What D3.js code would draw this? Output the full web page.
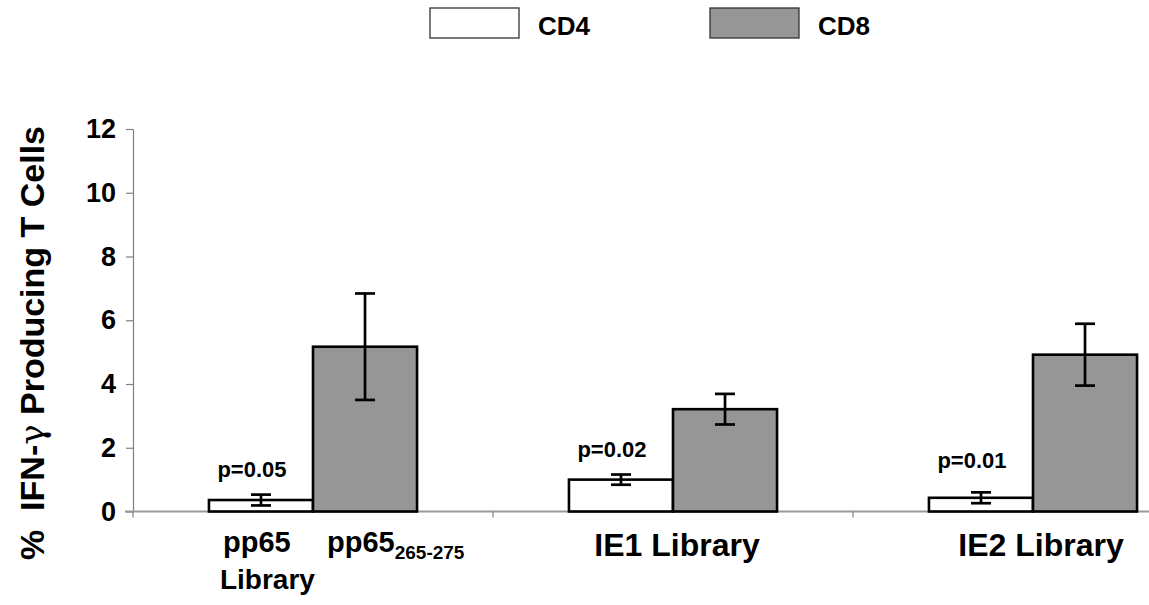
<!DOCTYPE html>
<html>
<head>
<meta charset="utf-8">
<script src="https://cdn.jsdelivr.net/npm/d3@7"></script>
<style>
  body { margin: 0; background: #fff; }
  svg { display: block; font-family: "Liberation Sans", Arial, sans-serif; font-weight: bold; }
</style>
</head>
<body>
<div id="chart"></div>
<script>
// data
var categories = ["pp65", "IE1", "IE2"];
var series = ["CD4", "CD8"];
var cd4Values = [0.36, 1.00, 0.43];
var cd4Errors = [0.17, 0.16, 0.17];
var cd8Values = [5.17, 3.21, 4.92];
var cd8Errors = [1.67, 0.48, 0.97];
var pLabels = ["p=0.05", "p=0.02", "p=0.01"];
var pLabelY = [1.08, 1.70, 1.38]; // in data units, where the p text sits
var yTicks = [0, 2, 4, 6, 8, 10, 12];

var width = 1149, height = 605;
var fills = { CD4: "#ffffff", CD8: "#969696" };

var svg = d3.select("#chart").append("svg")
  .attr("width", width)
  .attr("height", height);

// plot area (right side is cut off like the original)
var x = d3.scaleBand().domain(categories).range([133, 1213]).padding(0);
var xSeries = d3.scaleBand().domain(series).range([0, x.bandwidth()])
  .paddingInner(0).paddingOuter(0.73);
var y = d3.scaleLinear().domain([0, 12]).range([511.5, 129]);

// rows for the bars
var rows = [];
categories.forEach(function(c, i) {
  rows.push({ cat: c, s: "CD4", v: cd4Values[i], e: cd4Errors[i] });
  rows.push({ cat: c, s: "CD8", v: cd8Values[i], e: cd8Errors[i] });
});

// y axis
var yAxis = svg.append("g")
  .attr("transform", "translate(" + x.range()[0] + ",0)")
  .call(d3.axisLeft(y).tickValues(yTicks).tickSize(7).tickPadding(10).tickSizeOuter(0));
yAxis.select(".domain").attr("stroke", "#808080").attr("stroke-width", 1.2);
yAxis.selectAll(".tick line").attr("stroke", "#808080").attr("stroke-width", 1.2);
yAxis.selectAll(".tick text")
  .attr("font-size", 27).attr("font-weight", "bold").attr("fill", "#000")
  .attr("font-family", "Liberation Sans, Arial, sans-serif");

// baseline with category separators
svg.append("line")
  .attr("x1", x.range()[0] - 8).attr("x2", width)
  .attr("y1", y(0)).attr("y2", y(0))
  .attr("stroke", "#9a9a9a").attr("stroke-width", 2);
svg.selectAll(".sep").data(categories)
  .enter().append("line")
  .attr("class", "sep")
  .attr("x1", function(d) { return x(d); })
  .attr("x2", function(d) { return x(d); })
  .attr("y1", y(0)).attr("y2", y(0) + 6)
  .attr("stroke", "#808080").attr("stroke-width", 1.2);

// bars
var bars = svg.append("g");
bars.selectAll("rect").data(rows)
  .enter().append("rect")
  .attr("x", function(d) { return x(d.cat) + xSeries(d.s); })
  .attr("y", function(d) { return y(d.v); })
  .attr("width", xSeries.bandwidth())
  .attr("height", function(d) { return y(0) - y(d.v); })
  .attr("fill", function(d) { return fills[d.s]; })
  .attr("stroke", "#000")
  .attr("stroke-width", 2.6);

// error bars
var errs = svg.append("g").attr("stroke", "#000").attr("stroke-width", 2.7);
rows.forEach(function(d) {
  var cx = x(d.cat) + xSeries(d.s) + xSeries.bandwidth() / 2;
  errs.append("line")
    .attr("x1", cx).attr("x2", cx)
    .attr("y1", y(d.v + d.e)).attr("y2", y(d.v - d.e));
  [d.v + d.e, d.v - d.e].forEach(function(v) {
    errs.append("line")
      .attr("x1", cx - 10).attr("x2", cx + 10)
      .attr("y1", y(v)).attr("y2", y(v));
  });
});

// p values over the CD4 bars
svg.selectAll(".pval").data(categories)
  .enter().append("text")
  .attr("class", "pval")
  .attr("x", function(d) { return x(d) + xSeries("CD4") + xSeries.bandwidth() / 2 - 9; })
  .attr("y", function(d, i) { return y(pLabelY[i]); })
  .attr("text-anchor", "middle")
  .attr("font-size", 22)
  .text(function(d, i) { return pLabels[i]; });

// category labels
var c0 = x("pp65") + xSeries("CD4");
svg.append("text").attr("x", c0 + 14).attr("y", 552).attr("font-size", 29).text("pp65");
svg.append("text").attr("x", c0 + 11).attr("y", 589).attr("font-size", 28).text("Library");
var pep = svg.append("text").attr("x", x("pp65") + xSeries("CD8") + 14).attr("y", 552).attr("font-size", 29);
pep.append("tspan").text("pp65");
pep.append("tspan").attr("font-size", 19).attr("dy", 7).text("265-275");

svg.append("text")
  .attr("x", x("IE1") + x.bandwidth() / 2 + 4).attr("y", 556)
  .attr("text-anchor", "middle").attr("font-size", 32).text("IE1 Library");
svg.append("text")
  .attr("x", x("IE2") + x.bandwidth() / 2 + 8).attr("y", 556)
  .attr("text-anchor", "middle").attr("font-size", 32).text("IE2 Library");

// y axis title
var title = svg.append("text")
  .attr("transform", "translate(44,343) rotate(-90)")
  .attr("text-anchor", "middle")
  .attr("font-size", 34);
title.append("tspan").text("%\u00a0\u00a0IFN-");
title.append("tspan").attr("font-family", "DejaVu Serif, serif").attr("font-weight", "normal").text("γ");
title.append("tspan").text(" Producing T Cells");

// legend
var legendX = [430, 710];
var legend = svg.selectAll(".legend").data(series)
  .enter().append("g")
  .attr("class", "legend")
  .attr("transform", function(d, i) { return "translate(" + legendX[i] + ",8)"; });
legend.append("rect")
  .attr("width", 89).attr("height", 30)
  .attr("fill", function(d) { return fills[d]; })
  .attr("stroke", "#333").attr("stroke-width", 1.3);
legend.append("text")
  .attr("x", 108).attr("y", 27)
  .attr("font-size", 26)
  .text(function(d) { return d; });
</script>
</body>
</html>
